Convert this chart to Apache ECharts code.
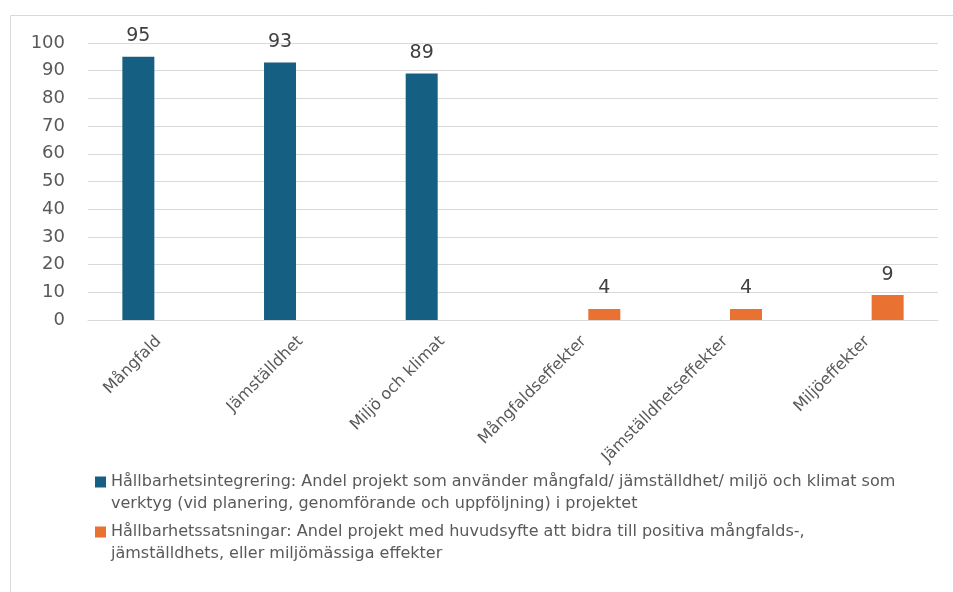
<!DOCTYPE html>
<html>
<head>
<meta charset="utf-8">
<script src="https://cdn.jsdelivr.net/npm/echarts@6/dist/echarts.min.js"></script>
<style>
  html, body { margin: 0; padding: 0; background: #fff; }
  #chart { width: 953px; height: 592px; }
</style>
</head>
<body>
<div id="chart"></div>
<script>
// kategorier och värden
const categories = ['Mångfald', 'Jämställdhet', 'Miljö och klimat', 'Mångfaldseffekter', 'Jämställdhetseffekter', 'Miljöeffekter'];
const integrering = [95, 93, 89, null, null, null];
const satsningar = [null, null, null, 4, 4, 9];
const yTicks = [0, 10, 20, 30, 40, 50, 60, 70, 80, 90, 100];
const seriesNames = [
  'Hållbarhetsintegrering: Andel projekt som använder mångfald/ jämställdhet/ miljö och klimat som\nverktyg (vid planering, genomförande och uppföljning) i projektet',
  'Hållbarhetssatsningar: Andel projekt med huvudsyfte att bidra till positiva mångfalds-,\njämställdhets, eller miljömässiga effekter'
];

var myChart = echarts.init(document.getElementById('chart'));

var label = {
  show: true,
  position: 'top',
  distance: 11,
  fontSize: 19,
  color: '#404040',
  fontFamily: 'DejaVu Sans'
};

var option = {
  animation: false,
  // ram runt diagrammet
  graphic: [{
    type: 'rect',
    shape: { x: 10.5, y: 15.5, width: 980, height: 620 },
    style: { fill: 'none', stroke: '#d9d9d9', lineWidth: 1 },
    silent: true
  }],
  grid: {
    left: 88,
    right: 15,
    top: 43,
    bottom: 272
  },
  legend: {
    orient: 'vertical',
    left: 90,
    top: 444,
    itemWidth: 11,
    itemHeight: 11,
    itemGap: -16,
    icon: 'rect',
    // tom rad först så att rutan hamnar vid första raden
    formatter: function (name) { return '\n' + name; },
    textStyle: {
      fontSize: 16,
      lineHeight: 22,
      color: '#595959',
      fontFamily: 'DejaVu Sans'
    },
    data: seriesNames
  },
  xAxis: {
    type: 'category',
    data: categories,
    axisLine: { lineStyle: { color: '#d9d9d9' } },
    axisTick: { show: false },
    axisLabel: {
      rotate: 45,
      margin: 19,
      fontSize: 16,
      color: '#595959',
      fontFamily: 'DejaVu Sans',
      interval: 0
    }
  },
  yAxis: {
    type: 'value',
    min: yTicks[0],
    max: yTicks[yTicks.length - 1],
    interval: 10,
    axisLine: { show: false },
    axisTick: { show: false },
    axisLabel: {
      margin: 23,
      fontSize: 18,
      color: '#595959',
      fontFamily: 'DejaVu Sans'
    },
    splitLine: { lineStyle: { color: '#d9d9d9', width: 1 } }
  },
  series: [
    {
      name: seriesNames[0],
      type: 'bar',
      data: integrering,
      barWidth: 32,
      barGap: '28%',
      itemStyle: { color: '#156082' },
      label: label
    },
    {
      name: seriesNames[1],
      type: 'bar',
      data: satsningar,
      barWidth: 32,
      barGap: '28%',
      itemStyle: { color: '#e97132' },
      label: label
    }
  ]
};

myChart.setOption(option);
</script>
</body>
</html>
